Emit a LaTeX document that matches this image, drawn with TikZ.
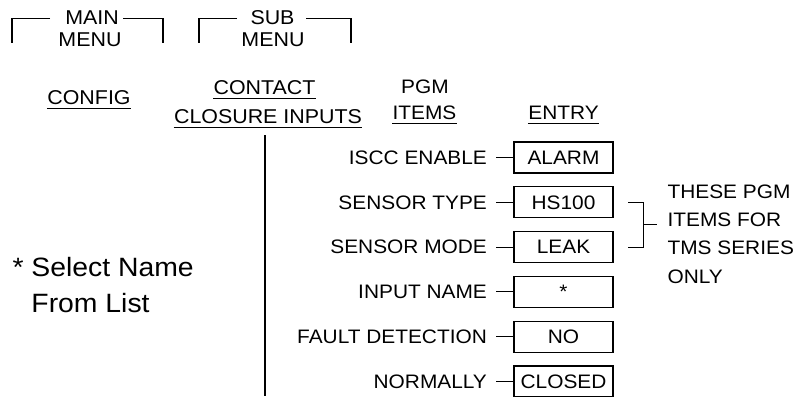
\documentclass[tikz,border=0pt]{standalone}
\usepackage{fontspec}
\setmainfont{Liberation Sans}[FakeStretch=1.07]
\usetikzlibrary{positioning,calc}

\begin{document}
\begin{tikzpicture}[x=1pt, y=-1pt, line width=1.1pt,
	hd/.style={font=\fontsize{20}{24}\selectfont, inner sep=2pt},
	ul/.style={hd, inner xsep=0pt, inner ysep=4pt, text depth=0pt},
	col/.style={ul, font=\fontsize{19.5}{24}\selectfont},
	item/.style={font=\fontsize{19.5}{24}\selectfont, inner xsep=9pt},
	entry/.style={draw, font=\fontsize{19.5}{24}\selectfont, minimum width=99pt, minimum height=31pt, inner sep=0pt}]
	\useasboundingbox (0,0) rectangle (800,396);

	% menu headings
	\node[hd, anchor=base]	(mainT)		at (92,25)		{MAIN};
	\node[hd, anchor=base]	(mainB)		at (90,46.7)	{MENU};
	\node[hd, anchor=base]	(subT)		at (272.5,25)	{SUB};
	\node[hd, anchor=base]	(subB)		at (273,46.7)	{MENU};

	\draw ([xshift=-42pt]mainT.center) -- ++(-38,0) -- ++(0,25);
	\draw ([xshift=31pt]mainT.center) -- ++(40,0) -- ++(0,25);
	\draw ([xshift=-35.5pt]subT.center) -- ++(-38,0) -- ++(0,25);
	\draw ([xshift=33.5pt]subT.center) -- ++(45,0) -- ++(0,25);

	% column headings
	\node[ul, anchor=base]	(config)	at (89,104)		{CONFIG};
	\node[ul, anchor=base]	(contact)	at (264.5,94.3)	{CONTACT};
	\node[ul, anchor=base]	(closure)	at (268,123)	{CLOSURE INPUTS};
	\node[col, anchor=base]	(pgm)		at (425,93)		{PGM};
	\node[col, anchor=base]	(items)		at (424.5,119)	{ITEMS};
	\node[col, anchor=base]	(entryhd)	at (563.5,119)	{ENTRY};

	\path
	(config.south west)		edge	(config.south east)
	(contact.south west)	edge	(contact.south east)
	(closure.south west)	edge	(closure.south east)
	(items.south west)		edge	(items.south east)
	(entryhd.south west)	edge	(entryhd.south east);

	% entries
	\node[entry]						(alarm)		at (563.5,157.5)	{ALARM};
	\node[entry, below=12.7pt of alarm]	(hs)		{HS100};
	\node[entry, below=12.7pt of hs]	(leak)		{LEAK};
	\node[entry, below=12.7pt of leak]	(name)		{*};
	\node[entry, below=12.7pt of name]	(fault)		{NO};
	\node[entry, below=12.7pt of fault]	(closed)	{CLOSED};

	% pgm items
	\node[item, left=17pt of alarm]		(isccL)		{ISCC ENABLE};
	\node[item, left=17pt of hs]		(typeL)		{SENSOR TYPE};
	\node[item, left=17pt of leak]		(modeL)		{SENSOR MODE};
	\node[item, left=17pt of name]		(nameL)		{INPUT NAME};
	\node[item, left=17pt of fault]		(faultL)	{FAULT DETECTION};
	\node[item, left=17pt of closed]	(normL)		{NORMALLY};

	\path
	(isccL)		edge	(alarm)
	(typeL)		edge	(hs)
	(modeL)		edge	(leak)
	(nameL)		edge	(name)
	(faultL)	edge	(fault)
	(normL)		edge	(closed);

	% trunk
	\coordinate (trunkT) at (265,135);
	\coordinate (trunkB) at (265,396);
	\draw (trunkT) -- (trunkB);

	% tms bracket
	\draw ([xshift=14.5pt]hs.east) -- ++(15,0) |- ([xshift=14.5pt]leak.east);
	\coordinate (brkmid) at ($(hs.east)!0.5!(leak.east)+(29.5,0)$);
	\draw (brkmid) -- ++(14,0);
	\node[font=\fontsize{19.5}{28.3}\selectfont, align=left, anchor=base west, inner sep=0pt]
		(note) at (667,283) {THESE PGM\\ITEMS FOR\\TMS SERIES\\ONLY};

	% footnote
	\node[font=\fontsize{26.5}{36}\selectfont, align=left, anchor=base west, inner sep=0pt]
		(select) at (12,312) {* Select Name\\\hphantom{* }From List};
\end{tikzpicture}
\end{document}
